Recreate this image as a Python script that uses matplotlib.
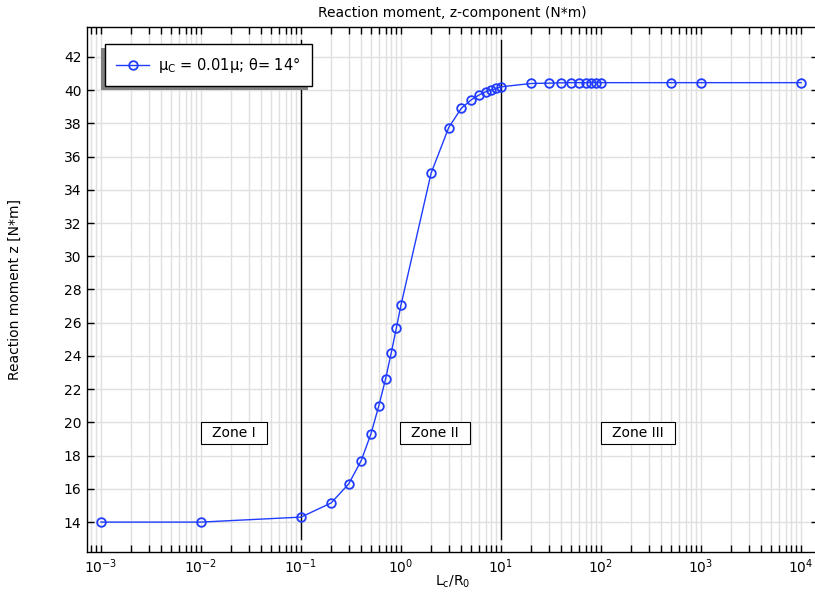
import numpy as np
import matplotlib
matplotlib.use("Agg")
import matplotlib.pyplot as plt
from matplotlib.patches import Rectangle
from matplotlib.ticker import FixedLocator, LogLocator, MultipleLocator, NullFormatter

plt.rcParams['mathtext.default'] = 'regular'
plt.rcParams['font.size'] = 10

# data
lc_r0 = [1e-3, 1e-2, 0.1, 0.2, 0.3, 0.4, 0.5, 0.6, 0.7, 0.8, 0.9, 1.0,
         2, 3, 4, 5, 6, 7, 8, 9, 10,
         20, 30, 40, 50, 60, 70, 80, 90, 100, 500, 1000, 10000]
moment_z = [14.0, 14.0, 14.3, 15.15, 16.3, 17.7, 19.3, 21.0, 22.6, 24.2, 25.7, 27.07,
            35.0, 37.75, 38.9, 39.4, 39.7, 39.9, 40.0, 40.1, 40.2,
            40.4, 40.42, 40.44, 40.45, 40.45, 40.45, 40.45, 40.45, 40.45, 40.45, 40.45, 40.45]

x_major = [1e-3, 1e-2, 1e-1, 1e0, 1e1, 1e2, 1e3, 1e4]

zone_bounds = [0.1, 10]
zone_labels = ['Zone I', 'Zone II', 'Zone III']
zone_x = [0.0214, 2.2, 234]
zone_y = 19.35

blue = '#1f3cff'

fig = plt.figure(figsize=(8.15, 5.98), dpi=100)
ax = fig.add_axes([87 / 815, 1 - 552 / 598, (818 - 87) / 815, (552 - 27) / 598])

ax.plot(lc_r0, moment_z, '-o', color=blue, lw=1.0, ms=6.2, mfc='none', mew=1.3,
        label='μ$_C$ = 0.01μ; θ= 14°', zorder=3)

for xb in zone_bounds:
    ax.plot([xb, xb], [13, 43], color='black', lw=1.0, zorder=2)

for lab, xz in zip(zone_labels, zone_x):
    ax.text(xz, zone_y, '\u2002' + lab + '\u2002', ha='center', va='center', fontsize=10,
            bbox=dict(boxstyle='square,pad=0.3', fc='white', ec='black', lw=0.8), zorder=4)

ax.set_xscale('log')
ax.set_xlim(10 ** -3.14, 10 ** 4.17)
ax.set_ylim(12.2, 43.8)
ax.xaxis.set_major_locator(FixedLocator(x_major))
ax.xaxis.set_minor_locator(LogLocator(base=10, subs=np.arange(2, 10), numticks=20))
ax.xaxis.set_minor_formatter(NullFormatter())
ax.yaxis.set_major_locator(MultipleLocator(2))

ax.grid(True, which='major', color='#e0e0e0', lw=1.0, zorder=0)
ax.grid(True, which='minor', axis='x', color='#e0e0e0', lw=1.0, zorder=0)
ax.set_axisbelow(True)

ax.tick_params(which='both', direction='in', length=5, width=1, top=True, right=True,
               labelsize=10, pad=4)
for s in ax.spines.values():
    s.set_linewidth(1.0)

ax.set_title('Reaction moment, z-component (N*m)', fontsize=10, pad=7)
ax.set_xlabel('L$_c$/R$_0$', fontsize=10, labelpad=-2)
ax.set_ylabel('Reaction moment z [N*m]', fontsize=10, labelpad=30)

leg = ax.legend(loc='upper left', bbox_to_anchor=(18 / 731, 1 - 17 / 525),
                borderaxespad=0, fancybox=False, shadow=False,
                framealpha=1, edgecolor='black', fontsize=10.5, borderpad=0.75,
                handlelength=2.3, handletextpad=0.6)
leg.get_frame().set_linewidth(1.0)
leg.set_zorder(5)

# grey shadow offset to the lower left, like the reference
fig.canvas.draw()
bb = leg.get_window_extent()
shadow = Rectangle((bb.x0 - 4, bb.y0 - 4), bb.width, bb.height, transform=None,
                   facecolor='#808080', edgecolor='none', zorder=4.5)
ax.add_artist(shadow)

fig.savefig('out.png', dpi=100)
